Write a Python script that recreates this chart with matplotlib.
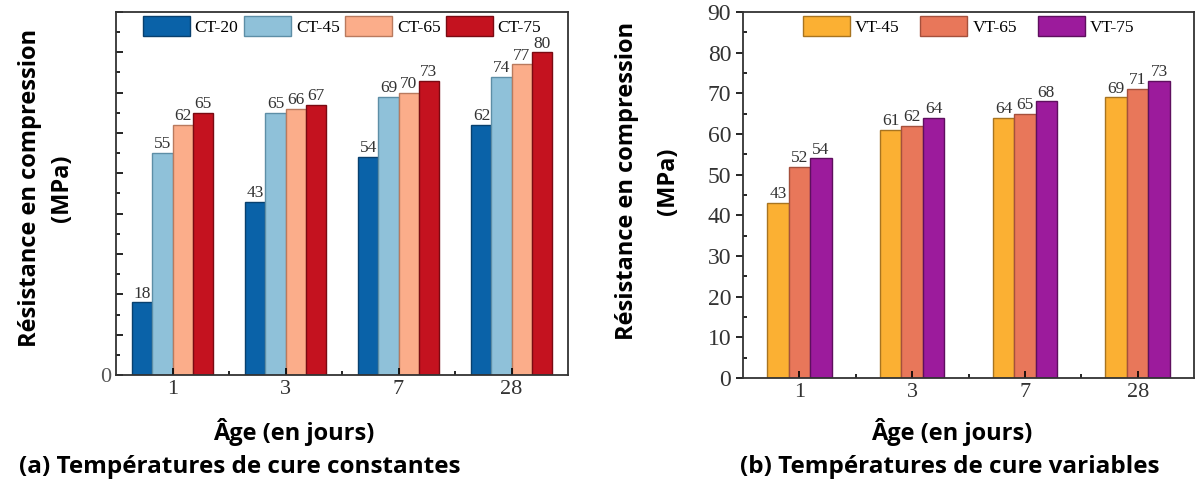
import numpy as np
import matplotlib
matplotlib.use('Agg')
import matplotlib.pyplot as plt

ages = ['1', '3', '7', '28']
y_ticks = [0, 10, 20, 30, 40, 50, 60, 70, 80, 90]

# (a) constant curing temperatures
ct_series = ['CT-20', 'CT-45', 'CT-65', 'CT-75']
ct_20 = [18, 43, 54, 62]
ct_45 = [55, 65, 69, 74]
ct_65 = [62, 66, 70, 77]
ct_75 = [65, 67, 73, 80]
ct_colors = ['#0a62a8', '#8fc1d9', '#fbad8a', '#c4121f']
ct_edges = ['#08406e', '#5d8ea6', '#b97a5e', '#7a0a12']

# (b) variable curing temperatures
vt_series = ['VT-45', 'VT-65', 'VT-75']
vt_45 = [43, 61, 64, 69]
vt_65 = [52, 62, 65, 71]
vt_75 = [54, 64, 68, 73]
vt_colors = ['#fbb033', '#e8775a', '#9c1b9c']
vt_edges = ['#a87420', '#a5503c', '#5e0f5e']

serif = 'Liberation Serif'
sans = 'Open Sans'

fig = plt.figure(figsize=(11.95, 4.86), dpi=100)
ax1 = fig.add_axes([116/1195, 1-375/486, 452/1195, 363/486])
ax2 = fig.add_axes([743/1195, 1-378/486, 451/1195, 366/486])


def draw(ax, data, names, colors, edges, width, colsp):
    x = np.arange(len(ages))
    n = len(data)
    for i, (vals, name, c, e) in enumerate(zip(data, names, colors, edges)):
        pos = x + (i - (n - 1) / 2) * width
        ax.bar(pos, vals, width, color=c, edgecolor=e, linewidth=1, label=name)
        for p, v in zip(pos, vals):
            ax.text(p, v + 0.2, str(v), ha='center', va='bottom',
                    fontsize=12.5, family=serif, color='#333333')
    ax.set_xlim(-0.5, 3.5)
    ax.set_ylim(0, 90)
    ax.set_xticks(x)
    ax.set_xticklabels(ages, family=serif, fontsize=16, color='#333333')
    ax.set_xticks(x[:-1] + 0.5, minor=True)
    ax.set_yticks(y_ticks)
    ax.set_yticks([t + 5 for t in y_ticks[:-1]], minor=True)
    ax.tick_params(axis='both', which='major', direction='in', length=5, width=1.2)
    ax.tick_params(axis='both', which='minor', direction='in', length=3, width=1.2)
    for s in ax.spines.values():
        s.set_linewidth(1.3)
        s.set_color('#333333')
    ax.legend(loc='upper center', bbox_to_anchor=(0.5, 1.0), ncol=n,
              frameon=False, handlelength=2.7, handleheight=1.4,
              handletextpad=0.3, columnspacing=colsp, borderaxespad=0.0,
              borderpad=0.25, prop={'family': serif, 'size': 12.5})


draw(ax1, [ct_20, ct_45, ct_65, ct_75], ct_series, ct_colors, ct_edges, 0.177, 0.3)
draw(ax2, [vt_45, vt_65, vt_75], vt_series, vt_colors, vt_edges, 0.19, 1.2)

# left panel only shows the zero label
ax1.set_yticklabels(['0'] + [''] * (len(y_ticks) - 1),
                    family=serif, fontsize=16, color='#555555')
ax2.tick_params(axis='y', which='major', direction='out')
ax2.set_yticklabels([str(t) for t in y_ticks],
                    family=serif, fontsize=17, color='#333333')

lab = dict(family=sans, fontsize=17, fontweight='bold', ha='center', va='center')
for xc, yc in ((30, 188), (627, 181)):
    fig.text(xc/1195, 1-yc/486, 'Résistance en compression', rotation=90, **lab)
for xc, yc in ((62, 188), (668, 181)):
    fig.text(xc/1195, 1-yc/486, '(MPa)', rotation=90, **lab)
fig.text(294/1195, 1-432/486, 'Âge (en jours)', **lab)
fig.text(952/1195, 1-432/486, 'Âge (en jours)', **lab)
cap = dict(lab, fontsize=17.5)
fig.text(240/1195, 1-467/486, '(a) Températures de cure constantes', **cap)
fig.text(950/1195, 1-467/486, '(b) Températures de cure variables', **cap)

fig.savefig('out.png', dpi=100)
